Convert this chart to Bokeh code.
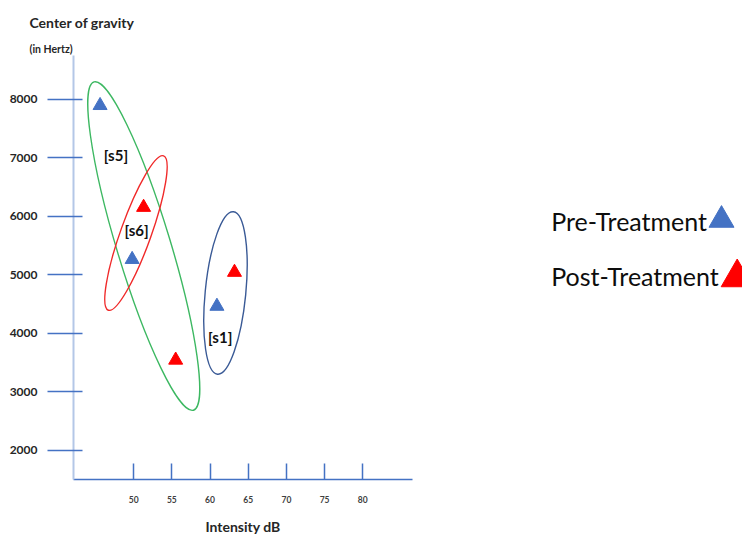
import numpy as np
from bokeh.plotting import figure
from bokeh.models import Range1d, FixedTicker, Title
from bokeh.layouts import row
from bokeh.embed import file_html
from bokeh.resources import INLINE
from bokeh.core.properties import value

# ---------------- data ----------------
x_ticks = [40, 50, 55, 60, 65, 70, 75, 80]
y_ticks = [2000, 3000, 4000, 5000, 6000, 7000, 8000]
subjects = ["[s5]", "[s6]", "[s1]"]
pre_db = [45.6, 49.8, 60.9]      # Pre-Treatment intensity (dB)
pre_hz = [7890, 5260, 4460]      # Pre-Treatment centre of gravity (Hz)
post_db = [55.5, 51.3, 63.2]     # Post-Treatment intensity (dB)
post_hz = [3540, 6150, 5040]     # Post-Treatment centre of gravity (Hz)

# ---------------- annotation layout (group rings and their labels) ----------------
ring_x = [51.32, 50.30, 62.02]
ring_y = [5488, 5711, 4687]
ring_w = [53.7, 30.5, 40.6]          # screen px
ring_h = [343, 164, 163.4]           # screen px
ring_angle = [np.radians(16.85), np.radians(-19.7), np.radians(-5.6)]
ring_color = ["#3DB862", "#F02A2A", "#3A5A96"]
lab_x = [47.68, 50.37, 61.33]
lab_y = [7051, 5770, 3932]

FONT = "Lato"
BLUE = "#4472C4"
RED = "#FF0000"

p = figure(width=422, height=537,
           x_range=Range1d(42.12, 86.51), y_range=Range1d(1500, 8744),
           output_backend="svg", toolbar_location=None,
           min_border_left=73, min_border_top=55, min_border_bottom=54, min_border_right=10)
p.grid.visible = False
p.outline_line_color = None
p.background_fill_color = "white"

# y-axis captions (stacked above the frame)
p.add_layout(Title(text="(in Hertz)", align="left", offset=-44, standoff=1,
                   text_font=FONT, text_font_style="bold", text_font_size="10.5px",
                   text_color="#262626"), "above")
p.add_layout(Title(text="Center of gravity", align="left", offset=-44, standoff=20,
                   text_font=FONT, text_font_style="bold", text_font_size="14px",
                   text_color="#262626"), "above")

# axes
p.xaxis.ticker = FixedTicker(ticks=x_ticks)
p.xaxis.axis_line_color = BLUE
p.xaxis.axis_line_width = 1.5
p.xaxis.major_tick_line_color = BLUE
p.xaxis.major_tick_line_width = 1.5
p.xaxis.major_tick_in = 16
p.xaxis.major_tick_out = 0
p.xaxis.minor_tick_line_color = None
p.xaxis.major_label_text_font = FONT
p.xaxis.major_label_text_font_style = "bold"
p.xaxis.major_label_text_font_size = "8.5px"
p.xaxis.major_label_text_color = "#404040"
p.xaxis.major_label_standoff = 16
p.xaxis.axis_label = "Intensity dB"
p.xaxis.axis_label_text_font = FONT
p.xaxis.axis_label_text_font_style = "bold"
p.xaxis.axis_label_text_font_size = "14px"
p.xaxis.axis_label_text_color = "#262626"
p.xaxis.axis_label_standoff = 12

p.yaxis.ticker = FixedTicker(ticks=y_ticks)
p.yaxis.axis_line_color = "#B4C7E7"
p.yaxis.axis_line_width = 2
p.yaxis.major_tick_line_color = BLUE
p.yaxis.major_tick_line_width = 1.3
p.yaxis.major_tick_in = 9
p.yaxis.major_tick_out = 26
p.yaxis.minor_tick_line_color = None
p.yaxis.major_label_text_font = FONT
p.yaxis.major_label_text_font_style = "bold"
p.yaxis.major_label_text_font_size = "12px"
p.yaxis.major_label_text_color = "#262626"
p.yaxis.major_label_standoff = 10

# group rings
p.ellipse(x=ring_x, y=ring_y, width=ring_w, height=ring_h, angle=ring_angle,
          width_units="screen", height_units="screen",
          fill_color=None, line_color=ring_color, line_width=1.4)

# points
p.scatter(pre_db, pre_hz, marker="triangle", size=14, fill_color=BLUE, line_color=BLUE)
p.scatter(post_db, post_hz, marker="triangle", size=14, fill_color=RED, line_color=RED)

# subject labels
p.text(x=lab_x, y=lab_y, text=subjects, text_align="center", text_baseline="middle",
       text_font=value(FONT), text_font_style="bold", text_font_size="15px", text_color="#111111")

# legend panel (its frame is aligned with the main frame: page rows 55..483)
p2 = figure(width=320, height=537, x_range=Range1d(0, 320), y_range=Range1d(483, 55),
            x_axis_type=None, y_axis_type=None,
            output_backend="svg", toolbar_location=None,
            min_border_left=0, min_border_right=0, min_border_top=55, min_border_bottom=54)
p2.outline_line_color = None
p2.grid.visible = False
p2.text(x=[128.7, 128.7], y=[221.7, 277.3], text=["Pre-Treatment", "Post-Treatment"],
        text_align="left", text_baseline="middle", text_font=value(FONT),
        text_font_size="25px", text_color="#0D0D0D")
p2.scatter(x=[299], y=[221.1], marker="triangle", size=25, fill_color=BLUE, line_color=BLUE)
p2.scatter(x=[314.7], y=[279.1], marker="triangle", size=32, fill_color=RED, line_color=RED)

layout = row(p, p2)
open("out.html", "w").write(file_html(layout, INLINE))
